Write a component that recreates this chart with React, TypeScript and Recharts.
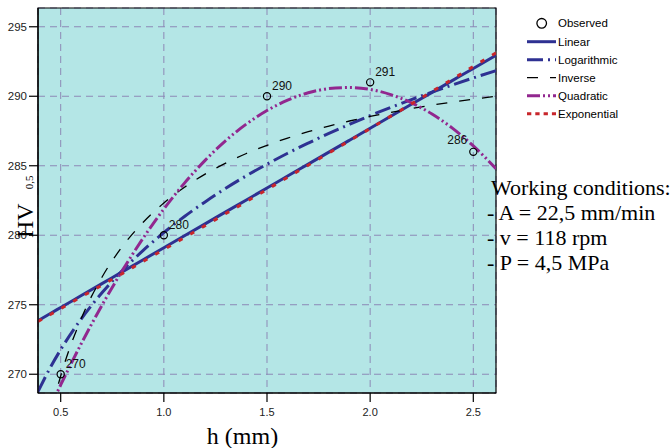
import React from 'react';
import { ComposedChart, Line, XAxis, YAxis, CartesianGrid, ReferenceArea } from 'recharts';

// h (mm) sample positions along the fitted curves
const hVals = [0.39, 0.45, 0.5, 0.6, 0.7, 0.8, 0.9, 1.0, 1.1, 1.2, 1.3, 1.4, 1.5, 1.6, 1.7, 1.8, 1.9, 2.0, 2.1, 2.2, 2.3, 2.4, 2.5, 2.61];

const linear = [273.85, 274.37, 274.8, 275.66, 276.52, 277.38, 278.24, 279.1, 279.96, 280.82, 281.68, 282.54, 283.4, 284.26, 285.12, 285.98, 286.84, 287.7, 288.56, 289.42, 290.28, 291.14, 292.0, 292.95];
const logarithmic = [268.76, 270.49, 271.77, 273.99, 275.86, 277.48, 278.91, 280.19, 281.35, 282.4, 283.38, 284.28, 285.11, 285.9, 286.63, 287.33, 287.98, 288.61, 289.2, 289.76, 290.3, 290.82, 291.32, 291.84];
const inverse = [262.85, 267.1, 269.87, 274.02, 276.98, 279.21, 280.94, 282.32, 283.45, 284.4, 285.19, 285.88, 286.47, 286.99, 287.45, 287.85, 288.22, 288.55, 288.84, 289.11, 289.36, 289.58, 289.79, 290.0];
const quadratic = [265.7, 267.66, 269.23, 272.21, 274.96, 277.49, 279.8, 281.89, 283.75, 285.39, 286.81, 288.0, 288.97, 289.72, 290.25, 290.55, 290.63, 290.49, 290.12, 289.53, 288.72, 287.69, 286.43, 284.79];
const exponential = [273.79, 274.3, 274.72, 275.57, 276.41, 277.26, 278.12, 278.97, 279.83, 280.69, 281.56, 282.42, 283.29, 284.17, 285.04, 285.92, 286.8, 287.68, 288.57, 289.45, 290.35, 291.24, 292.14, 293.12];

// observed hardness
const obsH = [0.5, 1.0, 1.5, 2.0, 2.5];
const obsHV = [270, 280, 290, 291, 286];

const xTicks = [0.5, 1.0, 1.5, 2.0, 2.5];
const yTicks = [270, 275, 280, 285, 290, 295];

const conditions = ['- A = 22,5 mm/min', '- v = 118 rpm', '- P = 4,5 MPa'];

const NAVY = '#2e3192';
const PURPLE = '#92278f';
const RED = '#c8262b';
const ARIAL = 'Arial, "Liberation Sans", sans-serif';
const TIMES = '"Times New Roman", "Liberation Serif", serif';

const tableData = hVals.map((h, i) => {
  const k = obsH.indexOf(h);
  return {
    h,
    linear: linear[i],
    logarithmic: logarithmic[i],
    inverse: inverse[i],
    quadratic: quadratic[i],
    exponential: exponential[i],
    obs: k >= 0 ? obsHV[k] : null,
  };
});

const legendItems = [
  { name: 'Linear', color: NAVY, width: 3, dash: undefined },
  { name: 'Logarithmic', color: NAVY, width: 3, dash: '16 5 2 5' },
  { name: 'Inverse', color: '#000', width: 1.3, dash: '11 12' },
  { name: 'Quadratic', color: PURPLE, width: 3, dash: '13 3 2 3 2 3' },
  { name: 'Exponential', color: RED, width: 3, dash: '4.3 4' },
];

const ObsDot = (props: any) => {
  const { cx, cy, value, index, payload } = props;
  if (value == null || cy == null || cx == null) return <g key={'d' + index} />;
  const left = payload.h === obsH[obsH.length - 1];
  return (
    <g key={'d' + index}>
      <text
        x={left ? cx - 6 : cx + 5}
        y={left ? cy - 8 : cy - 6}
        textAnchor={left ? 'end' : 'start'}
        fontFamily={ARIAL}
        fontSize={12}
        fill="#111"
      >
        {value}
      </text>
      <circle cx={cx} cy={cy} r={3.6} fill="none" stroke="#000" strokeWidth={1.2} />
    </g>
  );
};

export default function App() {
  return (
    <div style={{ position: 'absolute', left: 0, top: 0, width: 672, height: 448, background: '#fff' }}>
      <ComposedChart
        width={672}
        height={448}
        data={tableData}
        margin={{ top: 8, right: 176, bottom: 25, left: 0 }}
      >
        <CartesianGrid stroke="#8d89b6" strokeDasharray="7 5" fill="#b4e6e6" fillOpacity={1} />
        <XAxis
          dataKey="h"
          type="number"
          domain={[0.39, 2.61]}
          ticks={xTicks}
          allowDataOverflow
          tickFormatter={(v: number) => v.toFixed(1)}
          height={30}
          tickSize={9}
          tickMargin={6}
          axisLine={{ stroke: '#000', strokeWidth: 1.2 }}
          tickLine={{ stroke: '#000', strokeWidth: 1.2 }}
          tick={{ fontFamily: ARIAL, fontSize: 11, fill: '#222' }}
        />
        <YAxis
          type="number"
          domain={[268.65, 296.35]}
          ticks={yTicks}
          allowDataOverflow
          width={38}
          tickSize={9}
          tickMargin={2}
          axisLine={{ stroke: '#000', strokeWidth: 1.2 }}
          tickLine={{ stroke: '#000', strokeWidth: 1.2 }}
          tick={{ fontFamily: ARIAL, fontSize: 11.5, fill: '#222' }}
        />
        <Line type="monotone" dataKey="linear" stroke={NAVY} strokeWidth={3} dot={false} isAnimationActive={false} />
        <Line type="monotone" dataKey="logarithmic" stroke={NAVY} strokeWidth={3} strokeDasharray="16 5 2 5" dot={false} isAnimationActive={false} />
        <Line type="monotone" dataKey="inverse" stroke="#000" strokeWidth={1.3} strokeDasharray="11 12" dot={false} isAnimationActive={false} />
        <Line type="monotone" dataKey="quadratic" stroke={PURPLE} strokeWidth={3} strokeDasharray="13 3 2 3 2 3" dot={false} isAnimationActive={false} />
        <Line type="monotone" dataKey="exponential" stroke={RED} strokeWidth={3} strokeDasharray="4.5 9" dot={false} isAnimationActive={false} />
        <Line dataKey="obs" stroke="none" dot={ObsDot} activeDot={false} isAnimationActive={false} />
        <ReferenceArea x1={0.39} x2={2.61} y1={268.65} y2={296.35} fill="none" stroke="#000" strokeWidth={1.2} />
      </ComposedChart>
      <svg width={672} height={448} style={{ position: 'absolute', left: 0, top: 0, pointerEvents: 'none' }}>
        <g fontFamily={ARIAL} fontSize={11.5} fill="#000">
          <circle cx={541.7} cy={23.3} r={4.8} fill="none" stroke="#000" strokeWidth={1.3} />
          <text x={558} y={27.3}>Observed</text>
          {legendItems.map((it, i) => {
            const y = 41.7 + i * 18;
            return (
              <g key={it.name}>
                <line x1={527} x2={556} y1={y} y2={y} stroke={it.color} strokeWidth={it.width} strokeDasharray={it.dash} />
                <text x={558} y={y + 4}>{it.name}</text>
              </g>
            );
          })}
        </g>
        <text transform="translate(33,238) rotate(-90)" fontFamily={TIMES} fill="#000">
          <tspan fontSize={24}>HV</tspan>
          <tspan fontSize={11} dx={14}>0,5</tspan>
        </text>
        <text x={242.5} y={444} textAnchor="middle" fontFamily={TIMES} fontSize={24} fill="#000">h (mm)</text>
        <g fontFamily={TIMES} fontSize={22} fill="#000">
          <text x={491} y={194.5}>Working conditions:</text>
          {conditions.map((c, i) => (
            <text key={c} x={487} y={220 + i * 25}>{c}</text>
          ))}
        </g>
      </svg>
    </div>
  );
}
